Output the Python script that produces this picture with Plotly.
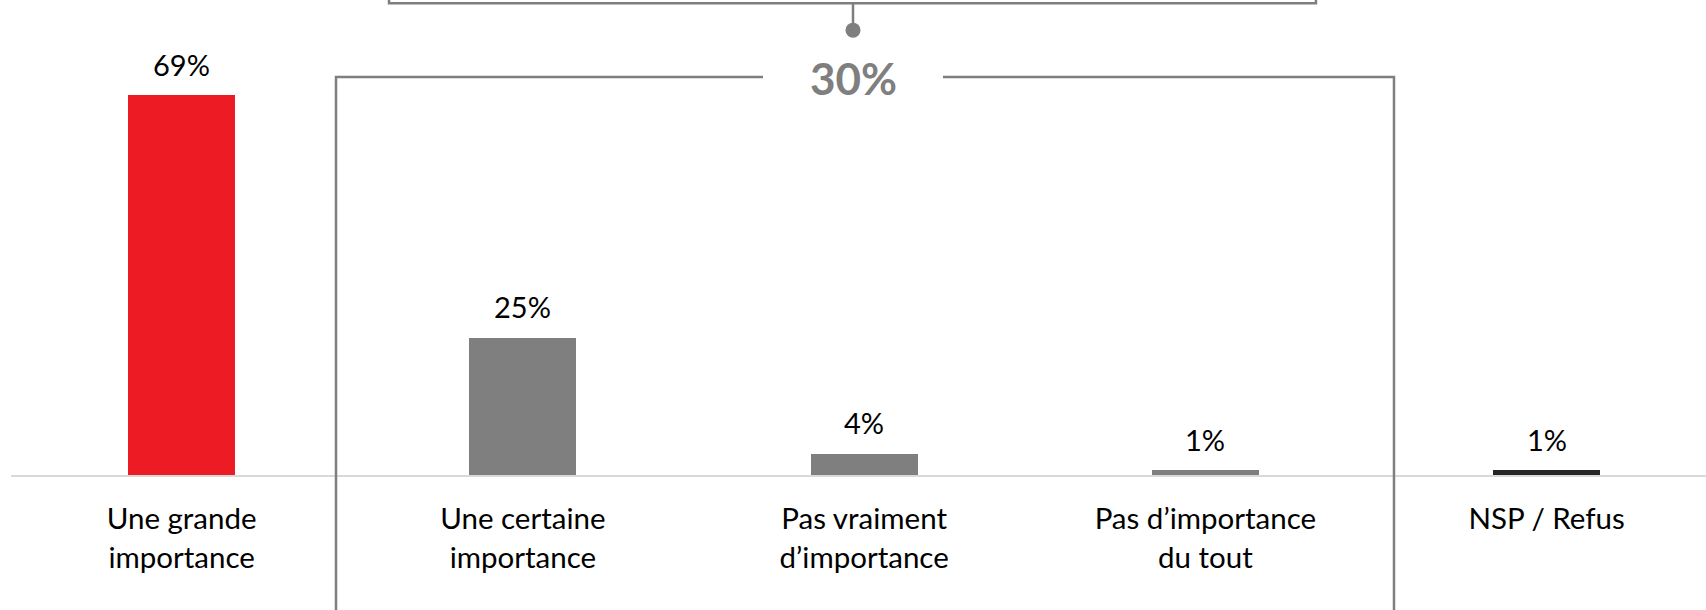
import plotly.graph_objects as go

categories = ["Une grande<br>importance", "Une certaine<br>importance", "Pas vraiment<br>d\u2019importance",
              "Pas d\u2019importance<br>du tout", "NSP / Refus"]
values = [69, 25, 4, 1, 1]
value_labels = ["69%", "25%", "4%", "1%", "1%"]
bar_colors = ["#ED1C24", "#7F7F7F", "#7F7F7F", "#7F7F7F", "#262626"]
group_indices = [1, 2, 3]  # categories grouped under the bracket

FONT = "Lato"
GRAY = "#7F7F7F"

x_idx = list(range(len(categories)))
group_total = sum(values[i] for i in group_indices)

fig = go.Figure()
fig.add_trace(go.Bar(
    x=x_idx, y=values, width=0.3135,
    marker=dict(color=bar_colors, line=dict(width=0)),
    hoverinfo="skip", showlegend=False,
))

# value labels above bars
for i, (v, t) in enumerate(zip(values, value_labels)):
    fig.add_annotation(x=i, y=v, xref="x", yref="y", text=t, showarrow=False,
                       yanchor="middle", yshift=31,
                       font=dict(family=FONT, size=29, color="#000000"))

# bracket geometry (layout decoration)
gc = sum(group_indices) / len(group_indices)   # centre of grouped categories
fx0, fx1 = gc - 1.5476, gc + 1.5527
fy = 72.26
gap0, gap1 = 1.7037, 2.231
ux0, ux1, uy = 0.6077, 3.324, 85.66
cx = 1.9674
dot_y = 80.77
line = dict(color=GRAY, width=2.5)

fig.add_shape(type="path", xref="x", yref="y", line=line,
              path=f"M {gap0} {fy} L {fx0} {fy} L {fx0} -40")
fig.add_shape(type="path", xref="x", yref="y", line=line,
              path=f"M {gap1} {fy} L {fx1} {fy} L {fx1} -40")
fig.add_shape(type="path", xref="x", yref="y", line=line,
              path=f"M {ux0} 95 L {ux0} {uy} L {ux1} {uy} L {ux1} 95")
fig.add_shape(type="line", xref="x", yref="y", line=line,
              x0=cx, x1=cx, y0=uy, y1=dot_y)
fig.add_trace(go.Scatter(x=[cx], y=[dot_y], mode="markers",
                         marker=dict(size=15, color=GRAY), hoverinfo="skip",
                         showlegend=False, cliponaxis=False))
fig.add_annotation(x=cx, y=fy, xref="x", yref="y", text=f"<b>{group_total}%</b>",
                   showarrow=False, yanchor="middle", yshift=-1,
                   font=dict(family=FONT, size=44, color=GRAY))

fig.update_layout(
    width=1706, height=610,
    margin=dict(l=11, r=0, t=0, b=0),
    plot_bgcolor="white", paper_bgcolor="white",
    bargap=0,
    xaxis=dict(range=[-0.5, 4.467], tickmode="array", tickvals=x_idx, ticktext=categories,
               anchor="free", position=1 - 476 / 610,
               showline=True, linecolor="#D9D9D9", linewidth=2,
               showgrid=False, zeroline=False, ticks="",
               ticklabelstandoff=17,
               tickfont=dict(family=FONT, size=29.5, color="#000000")),
    yaxis=dict(range=[-24.28, 86.23], visible=False, showgrid=False, zeroline=False),
)

fig.write_html("out.html", config={"displayModeBar": False},
               post_script="document.body.style.margin='0';document.body.style.overflow='hidden';")
